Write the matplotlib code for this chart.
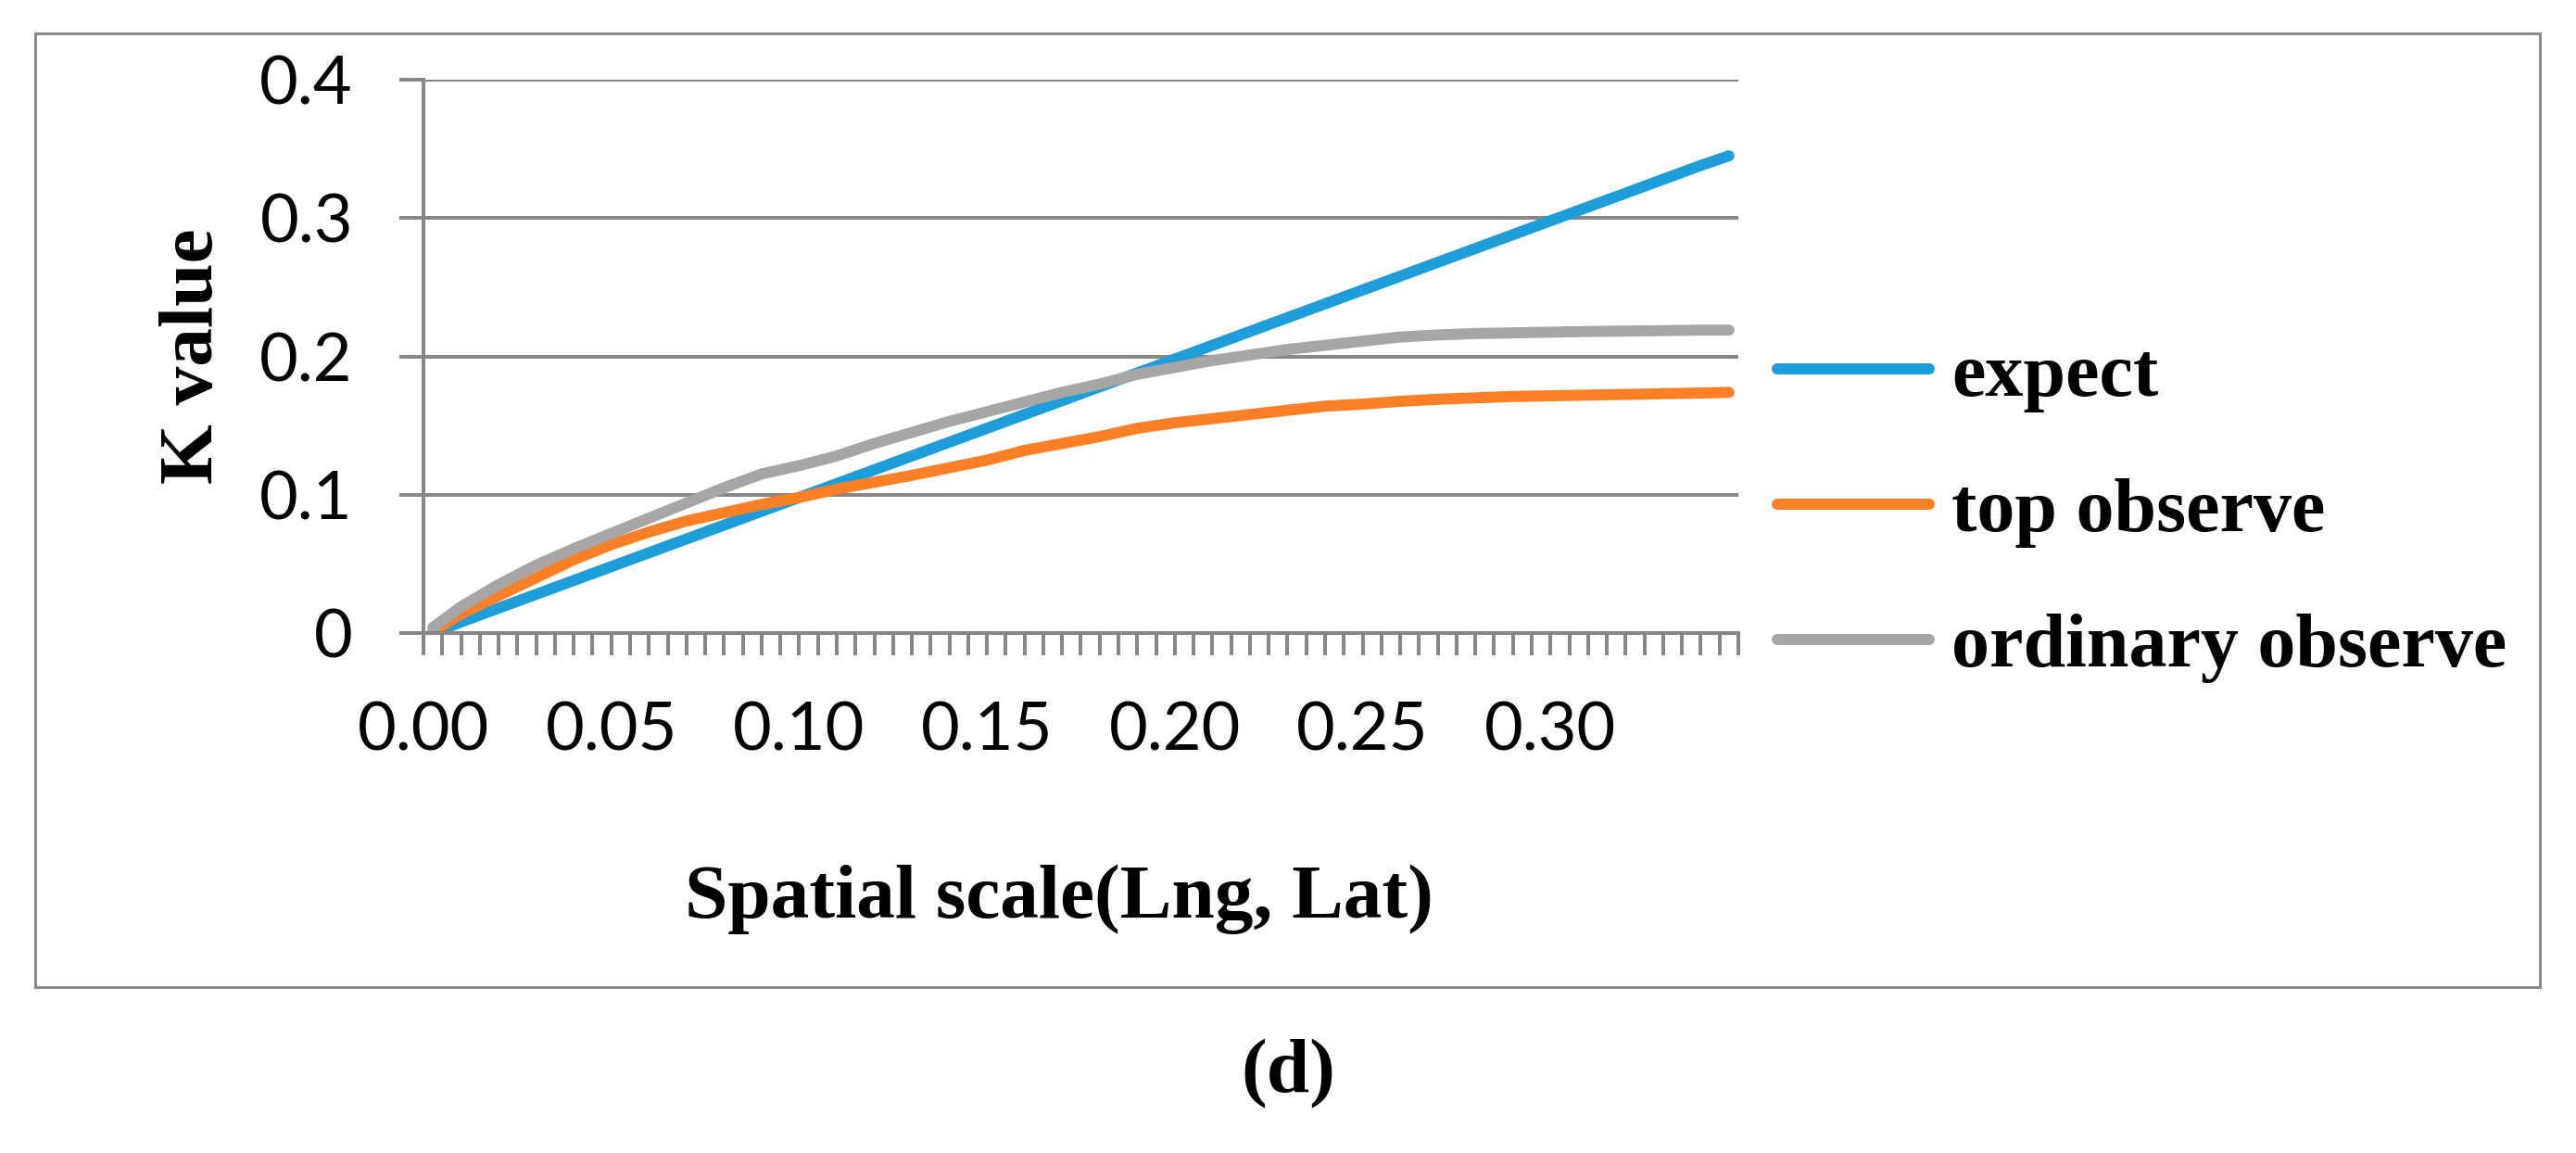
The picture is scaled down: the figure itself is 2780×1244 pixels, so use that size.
import numpy as np
import matplotlib
matplotlib.use('Agg')
import matplotlib.pyplot as plt
from matplotlib.patches import Rectangle
from matplotlib.ticker import MultipleLocator, FixedLocator

# spatial scale (Lng, Lat)
scale = [0.0025, 0.01, 0.02, 0.03, 0.04, 0.05, 0.06, 0.07, 0.08, 0.09,
         0.10, 0.11, 0.12, 0.13, 0.14, 0.15, 0.16, 0.17, 0.18, 0.19,
         0.20, 0.21, 0.22, 0.23, 0.24, 0.25, 0.26, 0.27, 0.28, 0.29,
         0.30, 0.31, 0.32, 0.33, 0.34, 0.3475]

expect = [0.000, 0.008, 0.018, 0.028, 0.038, 0.048, 0.058, 0.068, 0.078, 0.088,
          0.098, 0.108, 0.118, 0.128, 0.138, 0.148, 0.158, 0.168, 0.178, 0.188,
          0.198, 0.208, 0.218, 0.228, 0.238, 0.248, 0.258, 0.268, 0.278, 0.288,
          0.298, 0.308, 0.318, 0.328, 0.338, 0.345]

top_observe = [0.001, 0.014, 0.027, 0.040, 0.053, 0.064, 0.073, 0.081, 0.087, 0.093,
               0.098, 0.104, 0.109, 0.114, 0.1195, 0.125, 0.132, 0.137, 0.142, 0.148,
               0.152, 0.155, 0.158, 0.161, 0.164, 0.1655, 0.1675, 0.169, 0.170, 0.171,
               0.1715, 0.172, 0.1725, 0.173, 0.1735, 0.174]

ordinary_observe = [0.004, 0.019, 0.035, 0.049, 0.061, 0.072, 0.083, 0.094, 0.105, 0.115,
                    0.121, 0.128, 0.137, 0.145, 0.153, 0.160, 0.167, 0.174, 0.180, 0.187,
                    0.192, 0.197, 0.201, 0.205, 0.208, 0.211, 0.214, 0.2155, 0.2165, 0.217,
                    0.2175, 0.218, 0.2183, 0.2186, 0.219, 0.219]

x_labels = ['0.00', '0.05', '0.10', '0.15', '0.20', '0.25', '0.30']
y_labels = ['0', '0.1', '0.2', '0.3', '0.4']

W, H = 2780, 1244
fig = plt.figure(figsize=(W / 200, H / 200), dpi=200)
ax = fig.add_axes([457 / W, 1 - 683 / H, (1876 - 457) / W, (683 - 86) / H])

grey = '#878787'
serif = 'Liberation Serif'
sans = 'Lato'

ax.plot(scale, expect, color='#1E9ED9', lw=4.3, solid_capstyle='round', label='expect')
ax.plot(scale, top_observe, color='#FD7F26', lw=4.3, solid_capstyle='round', label='top observe')
ax.plot(scale, ordinary_observe, color='#A6A6A6', lw=4.3, solid_capstyle='round', label='ordinary observe')

ax.set_xlim(0, 0.35)
ax.set_ylim(0, 0.4)

ax.yaxis.set_major_locator(FixedLocator([0, 0.1, 0.2, 0.3, 0.4]))
ax.set_yticklabels(y_labels)
ax.xaxis.set_major_locator(FixedLocator([0, 0.05, 0.10, 0.15, 0.20, 0.25, 0.30]))
ax.set_xticklabels(x_labels)
ax.xaxis.set_minor_locator(MultipleLocator(0.005))

ax.grid(axis='y', color=grey, lw=1.45, zorder=0)
ax.set_axisbelow(True)
for s in ['top', 'right']:
    ax.spines[s].set_visible(False)
for s in ['left', 'bottom']:
    ax.spines[s].set_color(grey)
    ax.spines[s].set_linewidth(1.45)

ax.tick_params(axis='y', direction='out', length=9.4, width=1.45, color=grey, pad=18,
               labelsize=26)
ax.tick_params(axis='x', which='both', direction='out', length=8.6, width=1.45, color=grey,
               pad=18, labelsize=26)
for lab in ax.get_xticklabels() + ax.get_yticklabels():
    lab.set_fontfamily(sans)

ax.set_ylabel('K value', fontfamily=serif, fontweight='bold', fontsize=30, labelpad=12)
ax.set_xlabel('Spatial scale(Lng, Lat)', fontfamily=serif, fontweight='bold', fontsize=30)
ax.xaxis.set_label_coords((1143 - 457) / (1876 - 457), -(970 - 683) / (683 - 86))
ax.xaxis.label.set_va('center')

leg = fig.legend(loc='center left', bbox_to_anchor=(1918 / W, 1 - 553 / H), frameon=False,
                 prop={'family': serif, 'weight': 'bold', 'size': 29.5},
                 handlelength=2.0, handletextpad=0.3, labelspacing=0.86,
                 borderpad=0, borderaxespad=0)
for line in leg.get_lines():
    line.set_linewidth(4.3)

fig.add_artist(Rectangle((38 / W, 1 - 1065 / H), (2741 - 38) / W, (1065 - 36) / H,
                         transform=fig.transFigure, fill=False, edgecolor='#8c8c8c', lw=1.1))

fig.text(1390 / W, 1 - 1159 / H, '(d)', ha='center', va='center', fontfamily=serif,
         fontweight='bold', fontsize=30)

fig.savefig('out.png', dpi=200, facecolor='white')
